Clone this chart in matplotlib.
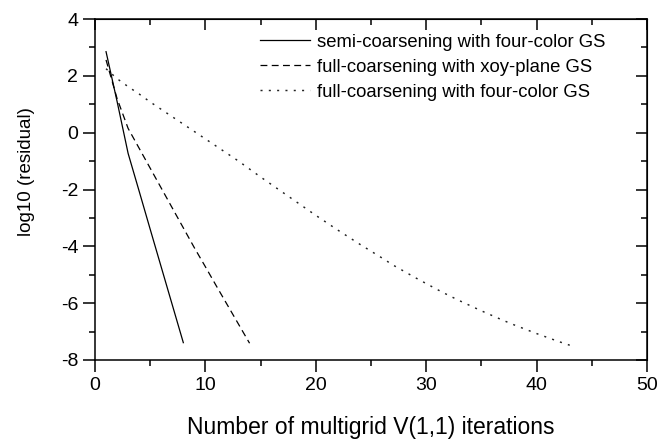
import matplotlib
matplotlib.use('Agg')
import matplotlib.pyplot as plt
from matplotlib.ticker import MultipleLocator

plt.rcParams['font.family'] = ['Liberation Sans', 'DejaVu Sans']
plt.rcParams['axes.unicode_minus'] = False

# iterations vs log10 residual
semi_iter = [1, 2, 3, 4, 5, 6, 7, 8]
semi_res = [2.85, 1.10, -0.73, -2.06, -3.40, -4.73, -6.06, -7.39]

xoy_iter = list(range(1, 15))
xoy_res = [2.56, 1.20, 0.15, -0.55, -1.25, -1.95, -2.65, -3.35, -4.05,
           -4.72, -5.40, -6.07, -6.74, -7.41]

four_iter = list(range(1, 44))
four_res = [2.25, 1.90, 1.62, 1.36, 1.08, 0.82, 0.56, 0.30, 0.04, -0.22,
            -0.48, -0.74, -1.00, -1.28, -1.56, -1.83, -2.10, -2.37, -2.64, -2.91,
            -3.17, -3.43, -3.68, -3.93, -4.17, -4.41, -4.66, -4.88, -5.10, -5.31,
            -5.52, -5.72, -5.91, -6.09, -6.27, -6.44, -6.61, -6.77, -6.92, -7.07,
            -7.21, -7.35, -7.48]

labels = ['semi-coarsening with four-color GS',
          'full-coarsening with xoy-plane GS',
          'full-coarsening with four-color GS']

fig = plt.figure(figsize=(6.61, 4.42), dpi=100)
ax = fig.add_axes([95/661, 1 - 360/442, 552/661, 341/442])

ax.plot(semi_iter, semi_res, color='black', lw=0.9, linestyle='-', label=labels[0])
ax.plot(xoy_iter, xoy_res, color='black', lw=0.9, linestyle=(0, (5.5, 3.5)), label=labels[1])
ax.plot(four_iter, four_res, color='#222222', lw=1.05, linestyle=(0, (1.4, 4.3)), label=labels[2])

ax.set_xlim(0, 50)
ax.set_ylim(-8, 4)
ax.xaxis.set_major_locator(MultipleLocator(10))
ax.xaxis.set_minor_locator(MultipleLocator(5))
ax.yaxis.set_major_locator(MultipleLocator(2))
ax.yaxis.set_minor_locator(MultipleLocator(1))

for sp in ax.spines.values():
    sp.set_linewidth(1.1)
ax.tick_params(which='major', direction='out', length=8.5, width=1.1, labelsize=14, pad=3.5)
ax.tick_params(which='minor', direction='out', length=4, width=1.1)

# mirrored ticks pointing inward on top and right
top = ax.secondary_xaxis('top')
top.xaxis.set_major_locator(MultipleLocator(10))
top.xaxis.set_minor_locator(MultipleLocator(5))
top.tick_params(which='major', direction='in', length=8, width=1.1, labeltop=False)
top.tick_params(which='minor', direction='in', length=4, width=1.1)
right = ax.secondary_yaxis('right')
right.yaxis.set_major_locator(MultipleLocator(2))
right.yaxis.set_minor_locator(MultipleLocator(1))
right.tick_params(which='major', direction='in', length=8, width=1.1, labelright=False)
right.tick_params(which='minor', direction='in', length=4, width=1.1)

ax.set_xlabel('Number of multigrid V(1,1) iterations', fontsize=16.5)
ax.set_ylabel('log10 (residual)', fontsize=13.5)
ax.xaxis.set_label_coords(0.5, -0.163)
ax.xaxis.label.set_va('top')
ax.yaxis.set_label_coords(-0.108, 0.554)

ax.legend(loc='upper left', bbox_to_anchor=(0.299, 0.957), frameon=False,
          fontsize=13.3, handlelength=2.7, handletextpad=0.4, labelspacing=0.44,
          borderpad=0, borderaxespad=0)

fig.savefig('out.png', dpi=100)
print("Saved out.png")
